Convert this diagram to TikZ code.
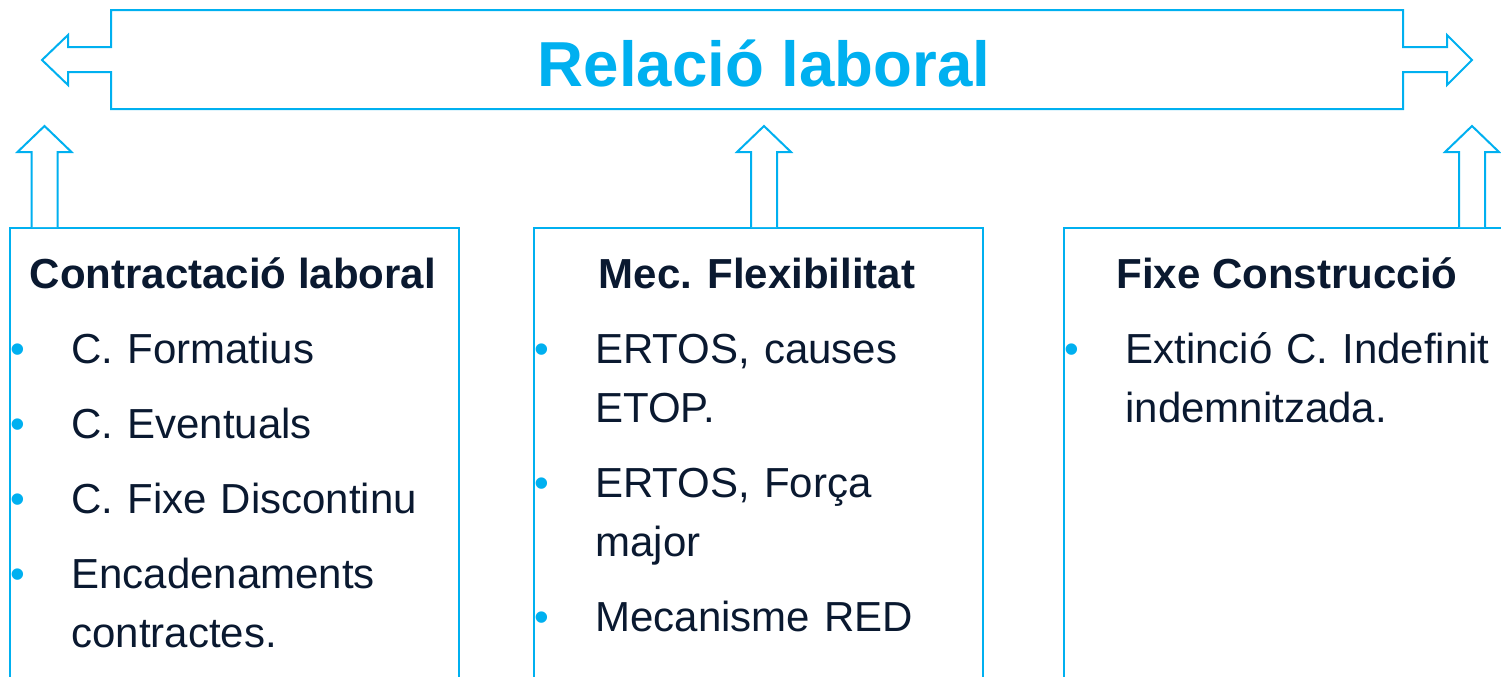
\documentclass[tikz,border=0pt]{standalone}
\usepackage{fontspec}
\setmainfont{Liberation Sans}
\usetikzlibrary{positioning}

\definecolor{cel}{HTML}{00B0F0}
\definecolor{tinta}{HTML}{0A1930}
\newcommand{\bitem}[1]{\hangindent=30.5pt\makebox[30.5pt][l]{\textcolor{cel}{•}}#1\par}

\begin{document}
\begin{tikzpicture}[x=0.5pt, y=-0.5pt, node distance = 0.5cm]
  % Estils
  \tikzstyle{caixa} = [rectangle, draw=cel, line width=0.75pt, minimum width=224.5pt,
  minimum height=240pt, inner sep=0pt]
  \tikzstyle{titol} = [font=\fontsize{21pt}{29.5pt}\selectfont\bfseries, text=tinta, inner sep=0pt]
  \tikzstyle{llista} = [font=\fontsize{21pt}{29.5pt}\selectfont, text=tinta, text width=216pt,
  align=left, inner sep=0pt, execute at begin node=\setlength{\parskip}{8pt}]
  \tikzstyle{fletxa} = [draw=cel, line width=1pt, fill=white]
  \tikzset{amunt/.pic={\path[fletxa] (-13,0) -- (-13,-75) -- (-27,-75) -- (0,-101) -- (27,-75) -- (13,-75) -- (13,0);}}

  \useasboundingbox (0,0) rectangle (1501,676);
  \clip (0,0) rectangle (1501,676);

  % Relacio laboral
  \draw[fletxa] (111,10) -- (1403,10) -- (1403,47) -- (1447,47) -- (1447,35) -- (1472,60)
  -- (1447,85) -- (1447,72) -- (1403,72) -- (1403,109) -- (111,109) -- (111,72) -- (68,72)
  -- (68,85) -- (42,60) -- (68,35) -- (68,47) -- (111,47) -- cycle;
  \node [font=\fontsize{31.8pt}{36pt}\selectfont\bfseries, text=cel, anchor=base, inner sep=0pt]
  (rel) at (764,86) {Relació laboral};

  % Caixes
  \node [caixa, anchor=north west] (contr) at (9,227) {};
  \node [caixa, anchor=north west] (flex) at (533,227) {};
  \node [caixa, anchor=north west] (fixe) at (1063,227) {};

  \pic at ([xshift=17.75pt]contr.north west) {amunt};
  \pic at ([xshift=115.5pt]flex.north west) {amunt};
  \pic at ([xshift=204.5pt]fixe.north west) {amunt};

  \node [titol, anchor=base] (hcontr) at (233,288) {Contractació laboral};
  \node [titol, anchor=base] (hflex) at (757,288) {Mec. Flexibilitat};
  \node [titol, anchor=base] (hfixe) at (1287,288) {Fixe Construcció};

  \node [llista, anchor=base west] (lcontr) at (10,363) {\bitem{C. Formatius}\bitem{C. Eventuals}%
  \bitem{C. Fixe Discontinu}\bitem{Encadenaments\newline contractes.}};
  \node [llista, anchor=base west] (lflex) at (534,363) {\bitem{ERTOS, causes\newline ETOP.}%
  \bitem{ERTOS, Força\newline major}\bitem{Mecanisme RED}};
  \node [llista, anchor=base west] (lfixe) at (1064,363) {\bitem{Extinció C. Indefinit\newline indemnitzada.}};
\end{tikzpicture}
\end{document}
